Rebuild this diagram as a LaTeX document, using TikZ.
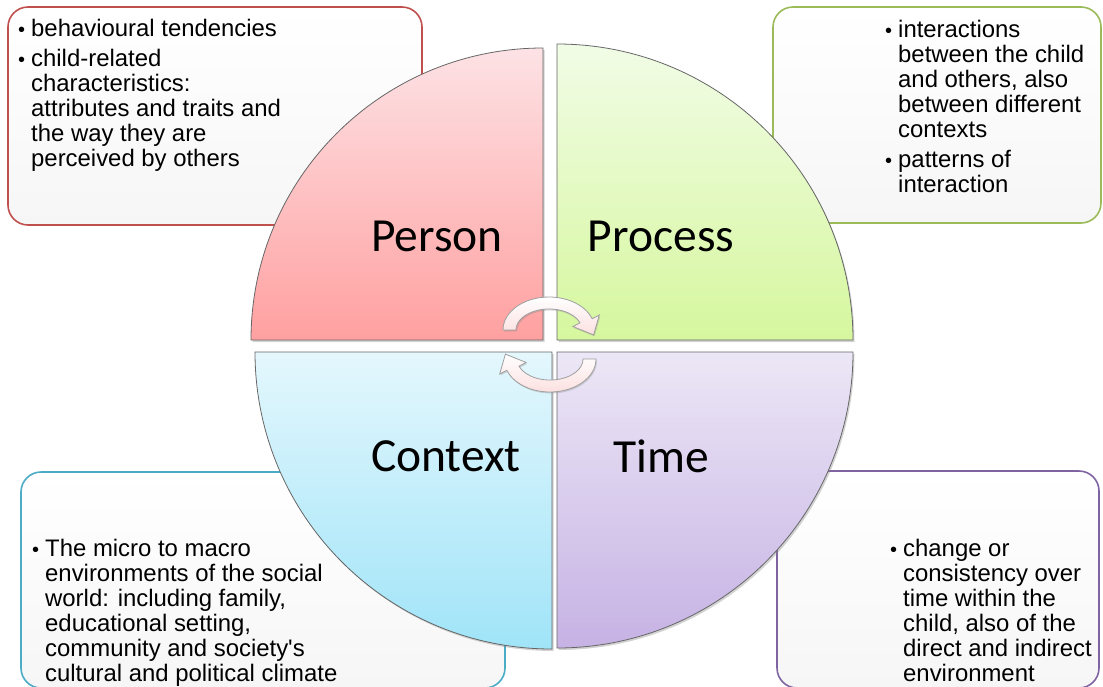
\documentclass[tikz,border=0pt]{standalone}
\usepackage{fontspec}
\setmainfont{Liberation Sans}
\newfontfamily\labelfont{Carlito}
\usetikzlibrary{shadows}
\definecolor{personB}{HTML}{C0504D}
\definecolor{processB}{HTML}{9BBB59}
\definecolor{contextB}{HTML}{4BACC6}
\definecolor{timeB}{HTML}{8064A2}
\definecolor{personT}{RGB}{253,226,229}
\definecolor{personD}{RGB}{255,160,160}
\definecolor{processT}{RGB}{241,252,230}
\definecolor{processD}{RGB}{214,247,158}
\definecolor{contextT}{RGB}{228,247,253}
\definecolor{contextD}{RGB}{160,228,248}
\definecolor{timeT}{RGB}{236,231,246}
\definecolor{timeD}{RGB}{198,178,228}
\definecolor{arrowF}{RGB}{252,224,224}
\newcommand\bul{\llap{{\fontsize{20}{20}\selectfont\textbullet}\hspace{6pt}}}
\newcommand\arrowshape{(-46,0) arc[start angle=180, end angle=340, x radius=46, y radius=33]
  -- (50.3,-15.0) -- (44.6,4.9) -- (23.9,-3.45) -- (31.0,-7.2)
  arc[start angle=340, end angle=180, x radius=33, y radius=21] -- cycle}
\begin{document}
\begin{tikzpicture}[x=1pt,y=-1pt,
  infobox/.style={draw, line width=1.6pt, rounded corners=20pt, top color=white, bottom color=gray!7, inner sep=0pt},
  quad/.style={draw=gray!80!black, line width=0.8pt, drop shadow={shadow xshift=1.5pt, shadow yshift=-2pt, opacity=0.35}},
  boxtext/.style={anchor=north west, align=left, inner sep=0pt, font=\fontsize{23.9}{25}\selectfont},
  qlabel/.style={inner sep=0pt, font=\labelfont\fontsize{47.5}{47.5}\selectfont},
  cyc/.style={draw=gray!75, line width=0.8pt, top color=white, bottom color=arrowF, drop shadow={shadow xshift=1pt, shadow yshift=-1.5pt, opacity=0.3}}]
\useasboundingbox (0,0) rectangle (1103,686);

% information boxes
\node[infobox, draw=personB, minimum width=414pt, minimum height=218pt] (pbox) at (215,116) {};
\node[infobox, draw=processB, minimum width=328pt, minimum height=216pt] (prbox) at (937,115) {};
\node[infobox, draw=contextB, minimum width=484pt, minimum height=216pt] (cbox) at (263,580) {};
\node[infobox, draw=timeB, minimum width=322pt, minimum height=217pt] (tbox) at (938,579.5) {};

% quadrants
\path[quad, top color=personT, bottom color=personD]
  (543,340) -- (251,340) arc[start angle=180, end angle=270, radius=292] -- cycle;
\path[quad, top color=processT, bottom color=processD]
  (557,340) -- (557,44) arc[start angle=270, end angle=360, radius=296] -- cycle;
\path[quad, top color=contextT, bottom color=contextD]
  (552,352) -- (255,352) arc[start angle=180, end angle=90, radius=297] -- cycle;
\path[quad, top color=timeT, bottom color=timeD]
  (557,352) -- (853,352) arc[start angle=0, end angle=90, radius=296] -- cycle;

% circular arrows
\begin{scope}[shift={(549,330)}]
\path[cyc] \arrowshape;
\end{scope}
\begin{scope}[shift={(550,359)}, rotate=180]
\path[cyc] \arrowshape;
\end{scope}

% quadrant labels
\node[qlabel] (person) at (437,236) {Person};
\node[qlabel] (process) at (661,236) {Process};
\node[qlabel] (context) at (446,456) {Context};
\node[qlabel] (time) at (661,456) {Time};

% box texts
\node[boxtext] (ptext) at (31,19) {\bul behavioural tendencies\\[5pt]
  \bul child-related\\ characteristics:\\ attributes and traits and\\ the way they are\\ perceived by others};
\node[boxtext] (prtext) at (898,20) {\bul interactions\\ between the child\\ and others, also\\ between different\\ contexts\\[5pt]
  \bul patterns of\\ interaction};
\node[boxtext] (ctext) at (45,539) {\bul The micro to macro\\ environments of the social\\ world: including family,\\ educational setting,\\ community and society\textquotesingle s\\ cultural and political climate};
\node[boxtext] (ttext) at (903,539) {\bul change or\\ consistency over\\ time within the\\ child, also of the\\ direct and indirect\\ environment};
\end{tikzpicture}
\end{document}
